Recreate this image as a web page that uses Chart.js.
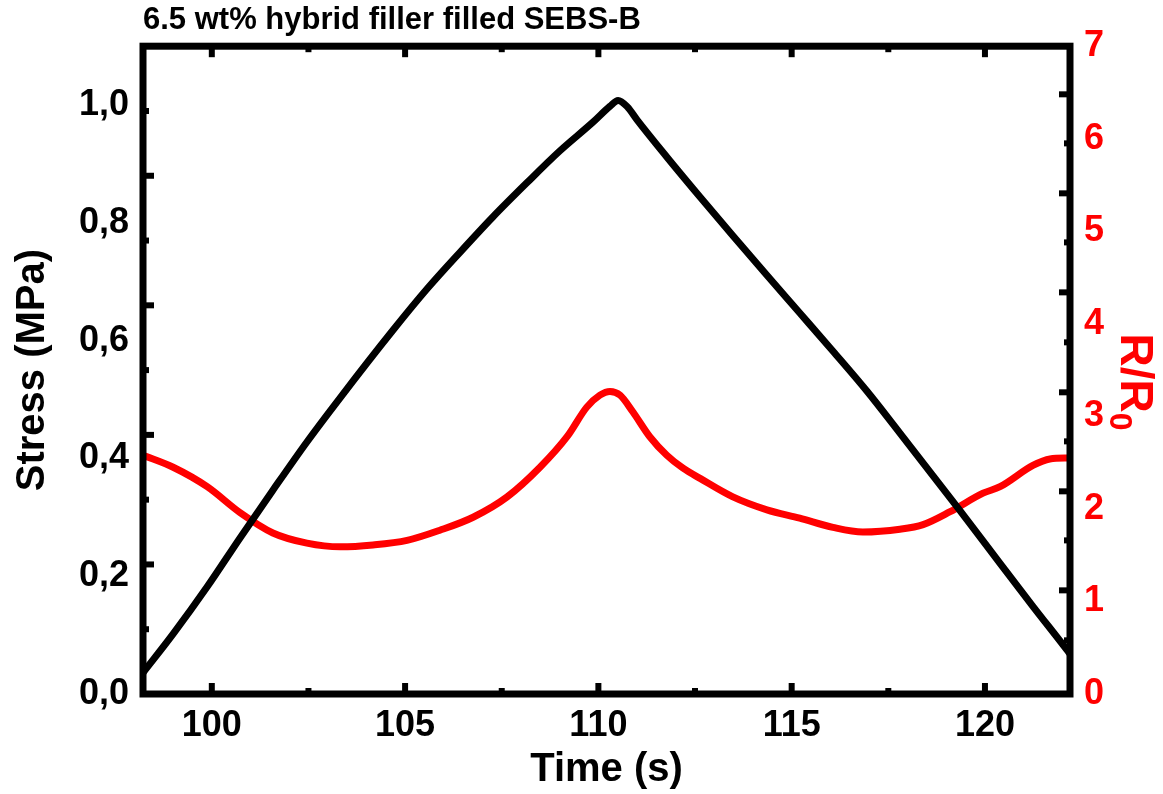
<!DOCTYPE html>
<html lang="en">
<head>
<meta charset="UTF-8">
<title>6.5 wt% hybrid filler filled SEBS-B</title>
<script src="https://cdn.jsdelivr.net/npm/chart.js@4.4.1/dist/chart.umd.min.js"></script>
<style>
   html, body { margin: 0; padding: 0; background: #fff; }
   .chart_box { position: relative; width: 1163px; height: 794px; }
</style>
</head>
<body>
<div class="chart_box">
   <canvas id="stressChart"></canvas>
</div>
<script>
   // stress (MPa) vs time (s)
   var stressTime = [98.22, 99.0, 99.88, 100.73, 101.58, 102.46, 103.32, 104.69, 105.57, 106.42, 107.27, 108.15, 109.0, 109.86, 110.3, 110.51, 110.75, 111.0, 111.77, 112.63, 113.48, 114.36, 115.21, 116.07, 116.95, 117.8, 119.3, 120.39, 121.24, 122.12, 122.2];
   var stressVal = [0.036, 0.102, 0.182, 0.265, 0.346, 0.428, 0.503, 0.618, 0.688, 0.75, 0.81, 0.868, 0.922, 0.971, 0.998, 1.008, 0.997, 0.975, 0.912, 0.844, 0.778, 0.711, 0.647, 0.582, 0.514, 0.443, 0.316, 0.222, 0.149, 0.075, 0.068];

   // R/R0 vs time (s)
   var resTime = [98.22, 99.0, 99.88, 100.73, 101.58, 102.46, 103.32, 104.17, 105.05, 105.9, 106.76, 107.64, 108.49, 109.19, 109.7, 110.04, 110.3, 110.56, 110.89, 111.33, 111.77, 112.19, 112.63, 113.48, 114.36, 115.21, 116.07, 116.84, 117.8, 118.4, 119.1, 119.95, 120.39, 121.24, 121.68, 122.2];
   var resVal = [2.58, 2.45, 2.24, 1.96, 1.74, 1.63, 1.59, 1.61, 1.66, 1.77, 1.91, 2.13, 2.45, 2.78, 3.1, 3.23, 3.27, 3.23, 3.05, 2.78, 2.58, 2.44, 2.33, 2.13, 1.99, 1.9, 1.8, 1.75, 1.78, 1.83, 1.97, 2.17, 2.24, 2.47, 2.54, 2.55];

   // tick labels
   var xTickLabels = [100, 105, 110, 115, 120];
   var leftTickLabels = [0, 0.2, 0.4, 0.6, 0.8, 1.0];
   var rightTickLabels = [0, 1, 2, 3, 4, 5, 6, 7];

   // inward tick marks on the frame
   var xMajorMarks = [100, 105, 110, 115, 120];
   var xMinorMarks = [102.5, 107.5, 112.5, 117.5];
   var leftMajorMarks = [0.22, 0.44, 0.66, 0.88];
   var leftMinorMarks = [0.11, 0.33, 0.55, 0.77, 0.99];
   var rightMajorMarks = [1.12, 2.19, 3.26, 4.34, 5.41, 6.48];
   var rightMinorMarks = [0.58, 1.66, 2.73, 3.8, 4.88, 5.95];

   var FONT = "'Liberation Sans', Arial, sans-serif";
   var RED = '#ff0000';

   function toPoints(xs, ys) {
      return xs.map(function (x, i) { return { x: x, y: ys[i] }; });
   }

   // frame + inward ticks + right title (R/R0 with subscript)
   var frameTicks = {
      id: 'frameTicks',
      afterDatasetsDraw: function (chart) {
         var ctx = chart.ctx, a = chart.chartArea, s = chart.scales;
         ctx.save();
         ctx.strokeStyle = '#000';
         ctx.lineCap = 'butt';
         ctx.lineWidth = 6;
         function seg(x1, y1, x2, y2) {
            ctx.beginPath(); ctx.moveTo(x1, y1); ctx.lineTo(x2, y2); ctx.stroke();
         }
         xMajorMarks.forEach(function (v) {
            var x = s.x.getPixelForValue(v);
            seg(x, a.bottom, x, a.bottom - 11);
            seg(x, a.top, x, a.top + 11);
         });
         xMinorMarks.forEach(function (v) {
            var x = s.x.getPixelForValue(v);
            seg(x, a.bottom, x, a.bottom - 6);
            seg(x, a.top, x, a.top + 6);
         });
         leftMajorMarks.forEach(function (v) {
            var y = s.y.getPixelForValue(v);
            seg(a.left, y, a.left + 11, y);
         });
         leftMinorMarks.forEach(function (v) {
            var y = s.y.getPixelForValue(v);
            seg(a.left, y, a.left + 6, y);
         });
         rightMajorMarks.forEach(function (v) {
            var y = s.y1.getPixelForValue(v);
            seg(a.right, y, a.right - 11, y);
         });
         rightMinorMarks.forEach(function (v) {
            var y = s.y1.getPixelForValue(v);
            seg(a.right, y, a.right - 6, y);
         });
         ctx.lineWidth = 7;
         ctx.lineJoin = 'miter';
         ctx.strokeRect(a.left, a.top, a.width, a.height);

         // R/R0 title
         ctx.fillStyle = RED;
         ctx.translate(a.right + 51, (a.top + a.bottom) / 2 + 12);
         ctx.rotate(Math.PI / 2);
         ctx.textBaseline = 'alphabetic';
         var main = 'R/R';
         ctx.font = 'bold 46px ' + FONT;
         var w1 = ctx.measureText(main).width;
         ctx.font = 'bold 32px ' + FONT;
         var w2 = ctx.measureText('0').width;
         var x0 = -(w1 + w2) / 2;
         ctx.font = 'bold 46px ' + FONT;
         ctx.fillText(main, x0, 0);
         ctx.font = 'bold 32px ' + FONT;
         ctx.fillText('0', x0 + w1, 11);
         ctx.restore();
      }
   };

   var ctx = document.getElementById('stressChart').getContext('2d');
   var stressChart = new Chart(ctx, {
      type: 'line',
      plugins: [frameTicks],
      data: {
         datasets: [{
            label: 'Stress',
            data: toPoints(stressTime, stressVal),
            yAxisID: 'y',
            borderColor: '#000',
            borderWidth: 7,
            pointRadius: 0,
            cubicInterpolationMode: 'monotone',
            borderJoinStyle: 'round',
            borderCapStyle: 'round'
         }, {
            label: 'R/R0',
            data: toPoints(resTime, resVal),
            yAxisID: 'y1',
            borderColor: RED,
            borderWidth: 7,
            pointRadius: 0,
            cubicInterpolationMode: 'monotone',
            borderJoinStyle: 'round',
            borderCapStyle: 'round'
         }]
      },
      options: {
         responsive: true,
         maintainAspectRatio: false,
         animation: false,
         layout: { padding: 0 },
         plugins: {
            legend: { display: false },
            tooltip: { enabled: false },
            title: {
               display: true,
               text: '6.5 wt% hybrid filler filled SEBS-B',
               align: 'start',
               fullSize: false,
               color: '#000',
               font: { family: FONT, size: 31, weight: 'bold', lineHeight: 1.2 },
               padding: { top: 2, bottom: 7 }
            }
         },
         scales: {
            x: {
               type: 'linear',
               position: 'bottom',
               min: 98.22,
               max: 122.2,
               afterFit: function (scale) { scale.height = 100; },
               afterBuildTicks: function (scale) {
                  scale.ticks = xTickLabels.map(function (v) { return { value: v }; });
               },
               ticks: {
                  color: '#000',
                  padding: 10,
                  maxRotation: 0,
                  font: { family: FONT, size: 36, weight: 'bold' },
                  callback: function (v) { return String(v); }
               },
               grid: { display: false, drawTicks: false },
               border: { display: false },
               title: {
                  display: true,
                  text: 'Time (s)',
                  color: '#000',
                  font: { family: FONT, size: 40, weight: 'bold', lineHeight: 1.2 },
                  padding: { top: 0, bottom: 0 }
               }
            },
            y: {
               type: 'linear',
               position: 'left',
               min: 0,
               max: 1.1,
               afterFit: function (scale) { scale.width = 143; },
               afterBuildTicks: function (scale) {
                  scale.ticks = leftTickLabels.map(function (v) { return { value: v }; });
               },
               ticks: {
                  color: '#000',
                  padding: 14,
                  font: { family: FONT, size: 36, weight: 'bold' },
                  callback: function (v) { return v.toFixed(1).replace('.', ','); }
               },
               grid: { display: false, drawTicks: false },
               border: { display: false },
               title: {
                  display: true,
                  text: 'Stress (MPa)',
                  color: '#000',
                  font: { family: FONT, size: 40, weight: 'bold', lineHeight: 1.2 },
                  padding: { top: 9, bottom: 0 }
               }
            },
            y1: {
               type: 'linear',
               position: 'right',
               min: 0,
               max: 7,
               afterFit: function (scale) { scale.width = 93; },
               afterBuildTicks: function (scale) {
                  scale.ticks = rightTickLabels.map(function (v) { return { value: v }; });
               },
               ticks: {
                  color: RED,
                  padding: 14,
                  font: { family: FONT, size: 36, weight: 'bold' },
                  callback: function (v) { return String(v); }
               },
               grid: { display: false, drawTicks: false },
               border: { display: false }
            }
         }
      }
   });
</script>
</body>
</html>
